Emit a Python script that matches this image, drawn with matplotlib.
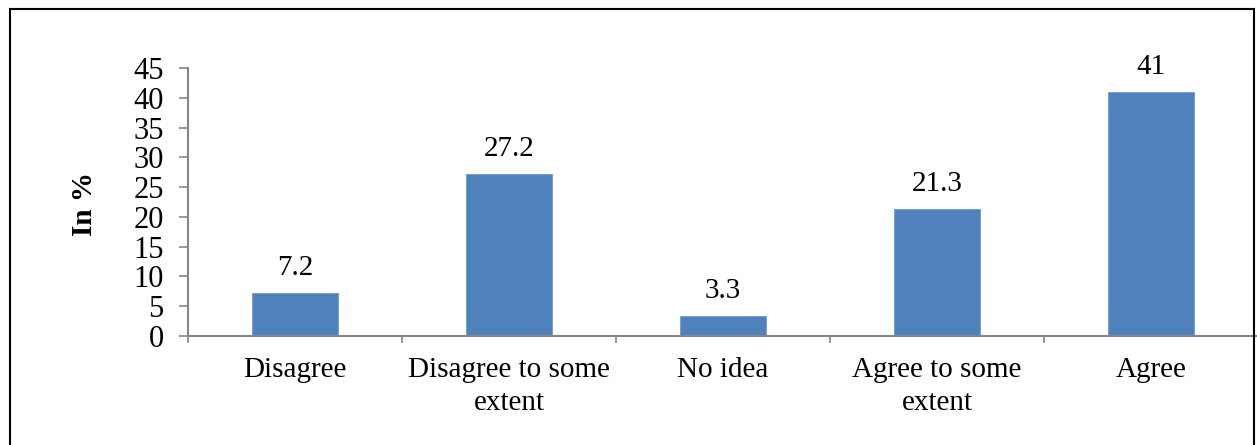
import matplotlib
matplotlib.use("Agg")
import matplotlib.pyplot as plt
from matplotlib.patches import Rectangle
import numpy as np

# Responses and their shares
categories = ["Disagree", "Disagree to some\nextent", "No idea",
              "Agree to some\nextent", "Agree"]
values = [7.2, 27.2, 3.3, 21.3, 41]
value_labels = ["7.2", "27.2", "3.3", "21.3", "41"]
y_ticks = [0, 5, 10, 15, 20, 25, 30, 35, 40, 45]

plt.rcParams["font.family"] = ["Liberation Serif", "DejaVu Serif"]
bar_color = "#4F81BD"
axis_gray = "#868686"

W, H = 1257, 445
fig = plt.figure(figsize=(W / 100, H / 100), dpi=100)
ax = fig.add_axes([188 / W, 1 - 336 / H, 1070 / W, (336 - 68) / H])

x = np.arange(len(categories))
bars = ax.bar(x, values, width=0.4, color=bar_color, edgecolor="#6f9ad0",
              linewidth=0.6, zorder=2)

for xi, v, lab in zip(x, values, value_labels):
    ax.annotate(lab, (xi, v), xytext=(0, 13), textcoords="offset points",
                ha="center", va="baseline", fontsize=21)

ax.set_xlim(-0.5, len(categories) - 0.5)
ax.set_ylim(0, 45)
ax.set_yticks(y_ticks)
ax.set_yticklabels([str(t) for t in y_ticks], fontsize=22)

ax.set_xticks(x)
ax.set_xticklabels(categories, fontsize=21, linespacing=1.35)
ax.set_xticks(np.arange(-0.5, len(categories)), minor=True)
ax.tick_params(axis="x", which="major", length=0, pad=15)
ax.tick_params(axis="x", which="minor", length=5, width=1.2, color=axis_gray)
ax.tick_params(axis="y", length=6.5, width=1.2, color=axis_gray, pad=11)

for side in ["top", "right"]:
    ax.spines[side].set_visible(False)
for side in ["left", "bottom"]:
    ax.spines[side].set_color(axis_gray)
    ax.spines[side].set_linewidth(1.5)

fig.text(84 / W, 1 - 204 / H, "In %", rotation=90, ha="center", va="center",
         fontsize=21, fontweight="bold")

# outer frame around the chart
frame = Rectangle((9.5 / W, -0.05), (1254 - 9.5) / W, 1.05 - 9.5 / H,
                  transform=fig.transFigure, fill=False, edgecolor="black",
                  linewidth=1.5, clip_on=False)
fig.patches.append(frame)

fig.savefig("out.png", dpi=100)
